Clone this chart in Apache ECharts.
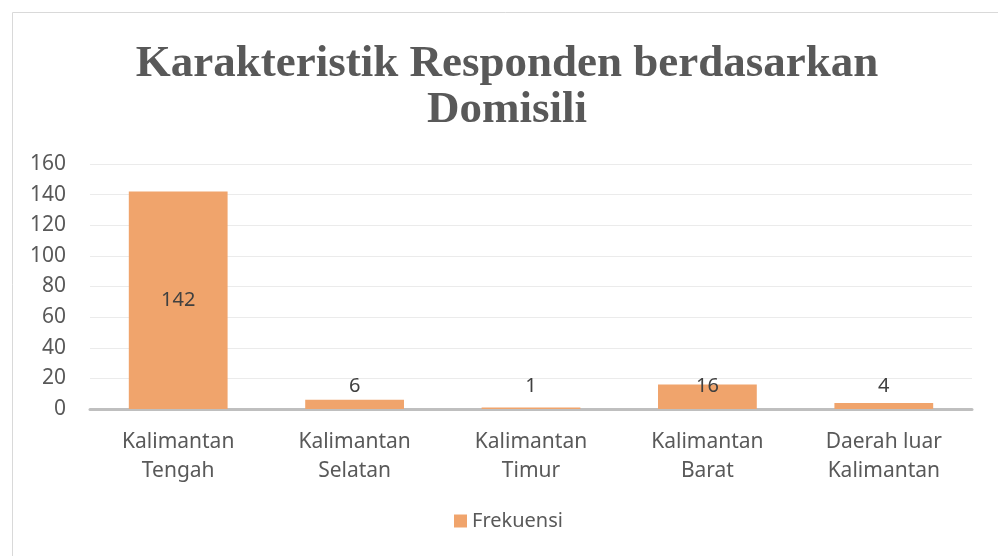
<!DOCTYPE html>
<html>
<head>
<meta charset="utf-8">
<script src="https://cdn.jsdelivr.net/npm/echarts@6/dist/echarts.min.js"></script>
<style>
  html, body { margin: 0; padding: 0; background: #fff; }
  #main { width: 998px; height: 556px; }
</style>
</head>
<body>
<div id="main"></div>
<script>
const categories = ['Kalimantan\nTengah', 'Kalimantan\nSelatan', 'Kalimantan\nTimur', 'Kalimantan\nBarat', 'Daerah luar\nKalimantan']
const frekuensi = [142, 6, 1, 16, 4]
const yTicks = [0, 20, 40, 60, 80, 100, 120, 140, 160]

const chart = echarts.init(document.getElementById('main'))

const labelFont = '"Noto Sans", "Open Sans", sans-serif'

chart.setOption({
  animation: false,
  graphic: [{
    type: 'rect',
    shape: { x: 12.5, y: 12.5, width: 1000, height: 560 },
    style: { fill: 'none', stroke: '#d9d9d9', lineWidth: 1 }
  }],
  title: {
    text: 'Karakteristik Responden berdasarkan\nDomisili',
    left: 502,
    textAlign: 'center',
    top: 36,
    textStyle: {
      fontFamily: '"Liberation Serif", serif',
      fontWeight: 'bold',
      fontSize: 45,
      lineHeight: 46,
      color: '#595959'
    }
  },
  grid: { left: 90, right: 26, top: 164, bottom: 147, containLabel: false },
  legend: {
    bottom: 20,
    left: 449,
    itemWidth: 13,
    itemHeight: 13,
    itemGap: 10,
    icon: 'rect',
    textStyle: { fontFamily: labelFont, fontSize: 20, color: '#595959' },
    data: ['Frekuensi']
  },
  xAxis: {
    type: 'category',
    data: categories,
    axisLine: { lineStyle: { color: '#bfbfbf', width: 3 } },
    axisTick: { show: false },
    axisLabel: {
      fontFamily: labelFont, fontSize: 21, color: '#595959',
      lineHeight: 29, margin: 19, interval: 0
    }
  },
  yAxis: {
    type: 'value',
    min: yTicks[0],
    max: yTicks[yTicks.length - 1],
    interval: 20,
    axisLine: { show: false },
    axisTick: { show: false },
    splitLine: { lineStyle: { color: '#ebebeb', width: 1 } },
    axisLabel: { fontFamily: labelFont, fontSize: 21, color: '#595959', margin: 24 }
  },
  series: [{
    name: 'Frekuensi',
    type: 'bar',
    data: frekuensi.map((v, i) => ({
      value: v,
      label: i === 0 ? { position: 'inside' } : { position: 'insideBottom', distance: 13 }
    })),
    barWidth: '56%',
    itemStyle: { color: '#F0A46C' },
    label: {
      show: true,
      fontFamily: labelFont,
      fontSize: 20,
      color: '#404040'
    }
  }]
})
</script>
</body>
</html>
